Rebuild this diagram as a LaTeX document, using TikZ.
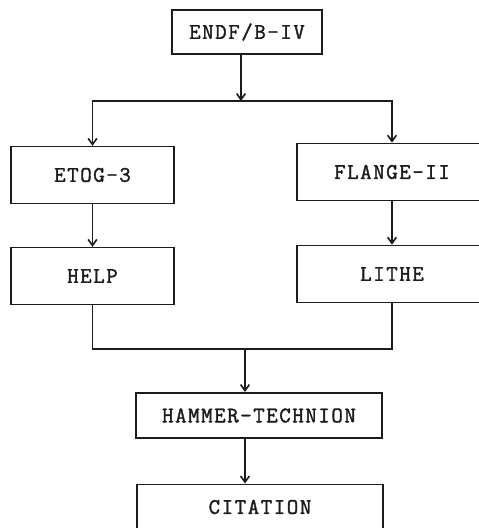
\documentclass[tikz,border=0pt]{standalone}
\usepackage{fontspec}
\newfontfamily\typewriter{Latin Modern Mono}[FakeBold=1.6, LetterSpace=7]
\usepackage{tikz}
\usetikzlibrary{arrows.meta,positioning,calc}
\definecolor{InkBlack}{HTML}{1C1C1C}
\tikzset{
    % Base program box
    progbox/.style={
        draw=InkBlack,
        fill=white,
        line width=1.4pt,
        inner sep=0pt,
        align=center,
        text=InkBlack,
        font=\typewriter\fontsize{19}{22}\selectfont
    },
    % Narrow box (left column)
    leftbox/.style={
        progbox,
        minimum width=4.89cm,
        minimum height=1.7cm
    },
    % Wide box (right column)
    rightbox/.style={
        progbox,
        minimum width=5.7cm,
        minimum height=1.71cm
    },
    % Long box (bottom chain)
    longbox/.style={
        progbox,
        minimum width=7.38cm,
        minimum height=1.36cm
    },
    % Arrow style
    myarrow/.style={
        -{Straight Barb[length=1.8mm,width=2.6mm]},
        line width=1.4pt,
        draw=InkBlack
    },
    % Plain joining line
    myline/.style={
        line width=1.4pt,
        draw=InkBlack
    }
}

\begin{document}
\begin{tikzpicture}[x=0.03cm, y=-0.03cm]
        \clip (0,0) rectangle (479,528);
        \fill[white] (0,0) rectangle (479,528);

        % Source library
        \node[progbox, minimum width=4.5cm, minimum height=1.32cm] (endf) at (247,32) {ENDF/B-IV};

        % Left branch
        \node[leftbox] (etog) at (92.5,175) {ETOG-3};
        \node[leftbox] (help) at (92.5,276) {HELP};

        % Right branch
        \node[rightbox] (flange) at (392,172) {FLANGE-II};
        \node[rightbox] (lithe) at (392,274) {LITHE};

        % Bottom chain
        \node[longbox] (hammer) at (259,415.5) {HAMMER-TECHNION};
        \node[longbox] (citation) at (260,507) {CITATION};

        % Split and merge points
        \coordinate (split) at (241,101);
        \coordinate (merge) at (245,349);

        % Arrows
        \draw[myarrow] (endf.south -| split) -- (split);
        \draw[myarrow] (split) -| (etog.north);
        \draw[myarrow] (split) -| (flange.north);
        \draw[myarrow] (etog) -- (help);
        \draw[myarrow] (flange) -- (lithe);
        \draw[myline] (help.south) |- (merge) -| (lithe.south);
        \draw[myarrow] (merge) -- (merge |- hammer.north);
        \draw[myarrow] (hammer.south -| merge) -- (citation.north -| merge);
    \end{tikzpicture}
\end{document}
